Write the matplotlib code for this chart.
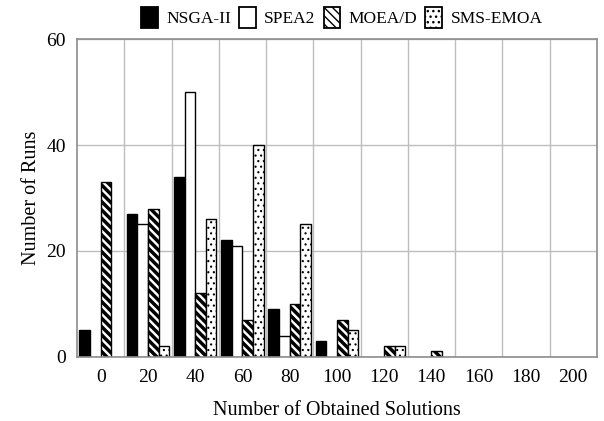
import matplotlib
matplotlib.use("Agg")
import matplotlib.pyplot as plt
import numpy as np

plt.rcParams['font.family'] = ['Liberation Serif', 'DejaVu Serif']

# histogram of obtained solutions per run, one list per algorithm
bins = [0, 20, 40, 60, 80, 100, 120, 140, 160, 180, 200]
nsga2 = [5, 27, 34, 22, 9, 3, 0, 0, 0, 0, 0]
spea2 = [0, 25, 50, 21, 4, 0, 0, 0, 0, 0, 0]
moead = [33, 28, 12, 7, 10, 7, 2, 1, 0, 0, 0]
smsemoa = [0, 2, 26, 40, 25, 5, 2, 0, 0, 0, 0]

# name, values, face, hatch, hatch line width
series = [
    ("NSGA-II", nsga2, 'black', None, 1.0),
    ("SPEA2", spea2, 'white', None, 1.0),
    ("MOEA/D", moead, 'white', '\\\\\\\\', 2.5),
    ("SMS-EMOA", smsemoa, 'white', '...', 0.8),
]

fig = plt.figure(figsize=(6.04, 4.21), dpi=100)
ax = fig.add_axes([0.1275, 0.1527, 0.8605, 0.754])

x = np.arange(len(bins))
w = 0.9 / 4
for i, (name, vals, face, hatch, hlw) in enumerate(series):
    with plt.rc_context({'hatch.linewidth': hlw}):
        bars = ax.bar(x - 0.45 + w * (i + 0.5), vals, w, color=face,
                      hatch=hatch, edgecolor='black', linewidth=1.0,
                      label=name, zorder=3)
    for b, v in zip(bars, vals):
        if hasattr(b, 'set_hatch_linewidth'):
            b.set_hatch_linewidth(hlw)
        if v == 0:
            b.set_linewidth(0)  # empty bins leave no outline on the baseline

ax.set_xlim(-0.5, len(bins) - 0.5)
ax.set_ylim(0, 60)
ax.set_yticks([0, 20, 40, 60])
ax.set_xticks(x)
ax.set_xticklabels([str(b) for b in bins])
ax.set_xticks(np.arange(0.5, len(bins) - 1, 1), minor=True)
ax.tick_params(axis='both', which='both', length=0, labelsize=14)
ax.tick_params(axis='x', pad=9)
ax.tick_params(axis='y', pad=8)

ax.grid(True, which='minor', axis='x', color='#bdbdbd', linewidth=1.0, zorder=0)
ax.grid(True, which='major', axis='y', color='#bdbdbd', linewidth=1.0, zorder=0)
for s in ax.spines.values():
    s.set_color('#8c8c8c')
    s.set_linewidth(1.2)
    s.set_zorder(4)

ax.set_xlabel("Number of Obtained Solutions", fontsize=14.5, labelpad=11)
ax.set_ylabel("Number of Runs", fontsize=14.5, labelpad=4)

leg = fig.legend(loc='center', bbox_to_anchor=(0.566, 0.958), ncol=4,
                 frameon=False, fontsize=12.5, handlelength=0.95,
                 handleheight=1.45, handletextpad=0.5, columnspacing=0.45)
for p in leg.get_patches():
    p.set_linewidth(1.3)

fig.savefig("out.png", dpi=100)
